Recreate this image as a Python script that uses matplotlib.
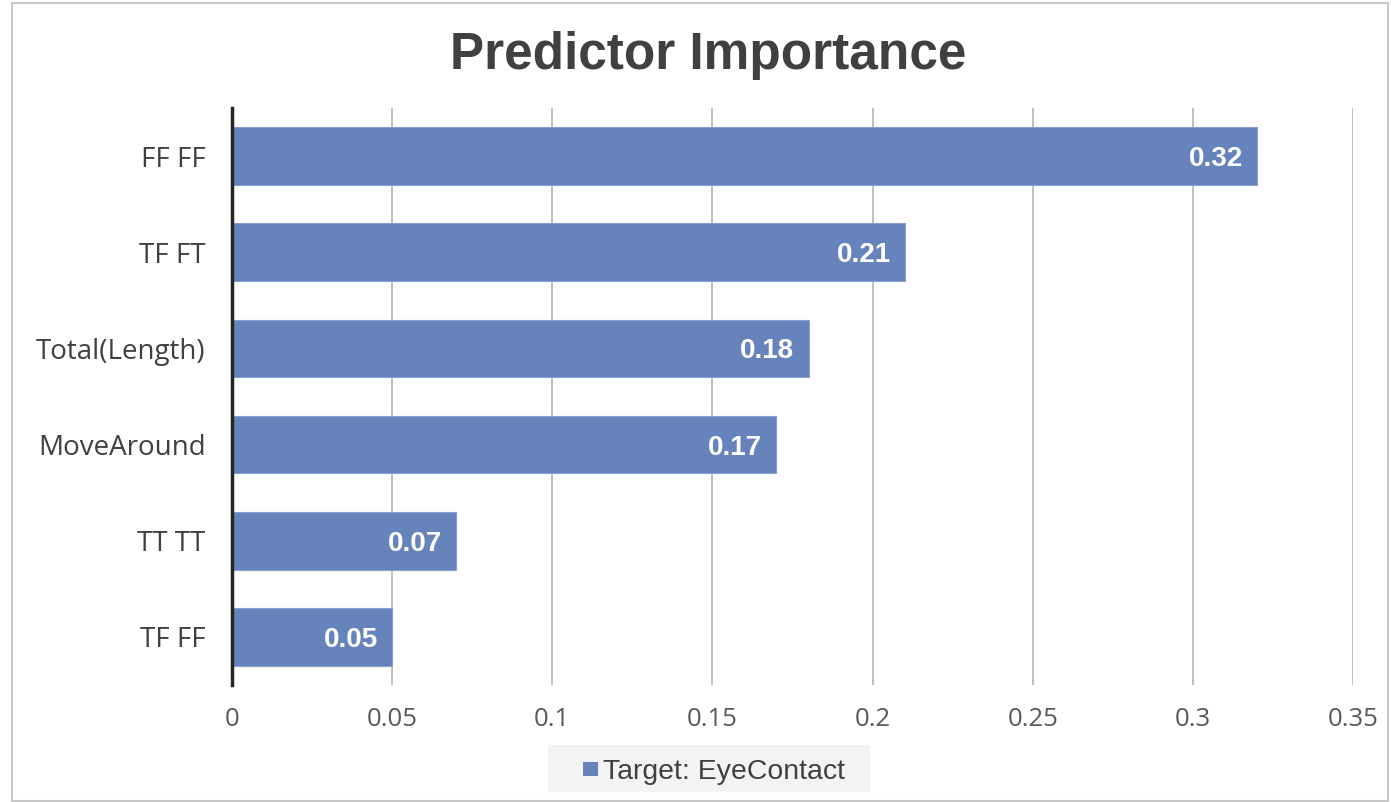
import matplotlib
matplotlib.use("Agg")
import matplotlib.pyplot as plt
from matplotlib.patches import Rectangle

# Predictor importance values (top to bottom)
predictors = ["FF FF", "TF FT", "Total(Length)", "MoveAround", "TT TT", "TF FF"]
importance = [0.32, 0.21, 0.18, 0.17, 0.07, 0.05]
x_ticks = [0, 0.05, 0.1, 0.15, 0.2, 0.25, 0.3, 0.35]
x_tick_labels = ["0", "0.05", "0.1", "0.15", "0.2", "0.25", "0.3", "0.35"]
series_name = "Target: EyeContact"

bar_color = "#6783bc"
label_font = ["Open Sans", "DejaVu Sans"]
arial = ["Liberation Sans", "DejaVu Sans"]

fig = plt.figure(figsize=(13.91, 8.02), dpi=100)
fig.patch.set_facecolor("white")

# Outer chart border
fig.add_artist(Rectangle((12 / 1391, 1 - 801 / 802), 1376 / 1391, 798 / 802,
                         transform=fig.transFigure, fill=False,
                         edgecolor="#c8c8c8", linewidth=1.5))

ax = fig.add_axes([232 / 1391, 1 - 685 / 802, (1353 - 232) / 1391, (685 - 108) / 802])

positions = list(range(len(predictors)))
ax.barh(positions, importance, height=0.6, color=bar_color,
        edgecolor="#8aa0cc", linewidth=0.8, zorder=3)

ax.set_ylim(len(predictors) - 0.5, -0.5)
ax.set_xlim(0, 0.35)

ax.set_xticks(x_ticks)
ax.set_xticklabels(x_tick_labels)
ax.set_yticks(positions)
ax.set_yticklabels(predictors)

for lbl in ax.get_xticklabels():
    lbl.set_fontfamily(label_font)
    lbl.set_fontsize(18.5)
    lbl.set_color("#595959")
for lbl in ax.get_yticklabels():
    lbl.set_fontfamily(label_font)
    lbl.set_fontsize(20)
    lbl.set_color("#404040")

ax.tick_params(axis="both", length=0)
ax.tick_params(axis="x", pad=16)
ax.tick_params(axis="y", pad=19)

ax.grid(axis="x", color="#b4b4b4", linewidth=1.2, zorder=0)
ax.grid(axis="y", visible=False)
for side in ["top", "right", "bottom"]:
    ax.spines[side].set_visible(False)
ax.spines["left"].set_color("#262626")
ax.spines["left"].set_linewidth(2.5)
ax.spines["left"].set_zorder(5)

# Value labels inside the bar ends
for pos, val in zip(positions, importance):
    ax.text(val - 0.0044, pos, f"{val:.2f}", ha="right", va="center_baseline",
            color="white", fontsize=20, fontweight="bold",
            fontfamily=arial, zorder=4)

fig.text(708 / 1391, 1 - 50 / 802, "Predictor Importance", ha="center",
         va="center_baseline", fontsize=37, fontweight="bold", color="#404040",
         fontfamily=arial)

# Legend box
fig.add_artist(Rectangle((548 / 1391, 1 - 792 / 802), (870 - 548) / 1391, 47 / 802,
                         transform=fig.transFigure, facecolor="#f3f3f3",
                         edgecolor="none"))
fig.add_artist(Rectangle((583 / 1391, 1 - 776 / 802), 15 / 1391, 14 / 802,
                         transform=fig.transFigure, facecolor=bar_color,
                         edgecolor="none"))
fig.text(603 / 1391, 1 - 769 / 802, series_name, ha="left", va="center_baseline",
         fontsize=20.4, color="#404040", fontfamily=arial)

fig.savefig("out.png", dpi=100, facecolor="white")
